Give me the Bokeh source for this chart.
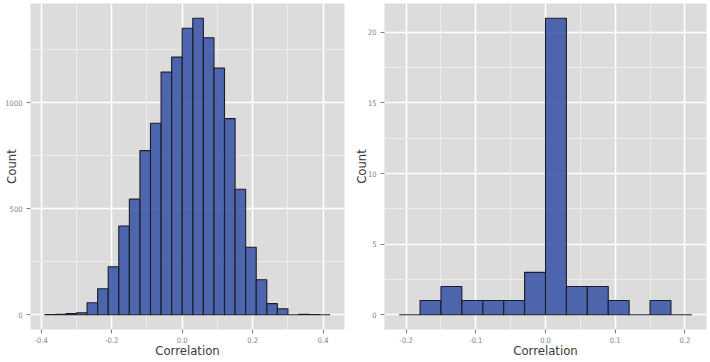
from bokeh.plotting import figure
from bokeh.layouts import row
from bokeh.models import FixedTicker, Range1d
from bokeh.embed import file_html
from bokeh.resources import INLINE

# ---------------- data ----------------
binwidth = 0.03

left_bin_lo = [-0.39, -0.36, -0.33, -0.30, -0.27, -0.24, -0.21, -0.18, -0.15,
               -0.12, -0.09, -0.06, -0.03, 0.00, 0.03, 0.06, 0.09, 0.12,
               0.15, 0.18, 0.21, 0.24, 0.27, 0.30, 0.33, 0.36, 0.39]
left_counts = [1, 2, 5, 9, 56, 122, 226, 418, 545,
               774, 903, 1144, 1215, 1351, 1398, 1306, 1163, 925,
               592, 318, 165, 52, 28, 0, 2, 1, 0]

right_bin_lo = [-0.21, -0.18, -0.15, -0.12, -0.09, -0.06, -0.03,
                0.00, 0.03, 0.06, 0.09, 0.12, 0.15, 0.18]
right_counts = [0, 1, 2, 1, 1, 1, 3, 21, 2, 2, 1, 0, 1, 0]

left_xticks = [-0.4, -0.2, 0.0, 0.2, 0.4]
left_xtick_labels = ["-0.4", "-0.2", "0.0", "0.2", "0.4"]
left_xminor = [-0.3, -0.1, 0.1, 0.3]
left_yticks = [0, 500, 1000]
left_ytick_labels = ["0", "500", "1000"]
left_yminor = [250, 750, 1250]

right_xticks = [-0.2, -0.1, 0.0, 0.1, 0.2]
right_xtick_labels = ["-0.2", "-0.1", "0.0", "0.1", "0.2"]
right_xminor = [-0.15, -0.05, 0.05, 0.15]
right_yticks = [0, 5, 10, 15, 20]
right_ytick_labels = ["0", "5", "10", "15", "20"]
right_yminor = [2.5, 7.5, 12.5, 17.5]

x_title = "Correlation"
y_title = "Count"

# ---------------- style ----------------
FONT = "DejaVu Sans Condensed, Roboto, sans-serif"
PANEL_BG = "#dcdcdc"
BAR_FILL = "#3c58a6"
BAR_LINE = "#1c1c28"
TICK_COLOR = "#7f7f7f"
TITLE_COLOR = "#3a3a3a"


def make_panel(bin_lo, counts, xticks, xlabels, xminor, yticks, ylabels, yminor,
               width, border_left, border_right, ylab_standoff):
    lo = list(bin_lo)
    hi = [b + binwidth for b in bin_lo]
    xmin, xmax = lo[0], hi[-1]
    xpad = (xmax - xmin) * 0.05
    ymax = max(counts)
    ypad = ymax * 0.05

    p = figure(width=width, height=362,
               min_border_left=border_left, min_border_right=border_right,
               min_border_top=3, min_border_bottom=33,
               x_range=Range1d(xmin - xpad, xmax + xpad),
               y_range=Range1d(-ypad, ymax + ypad),
               output_backend="svg", toolbar_location=None)
    p.background_fill_color = PANEL_BG
    p.border_fill_color = "white"
    p.outline_line_color = None

    p.quad(left=lo, right=hi, bottom=0, top=counts,
           fill_color=BAR_FILL, fill_alpha=0.9,
           line_color=BAR_LINE, line_width=1.1)

    p.xaxis.ticker = FixedTicker(ticks=xticks, minor_ticks=xminor)
    p.yaxis.ticker = FixedTicker(ticks=yticks, minor_ticks=yminor)
    p.xaxis.major_label_overrides = {t: l for t, l in zip(xticks, xlabels)}
    p.yaxis.major_label_overrides = {t: l for t, l in zip(yticks, ylabels)}

    for ax in (p.xaxis[0], p.yaxis[0]):
        ax.axis_line_color = None
        ax.major_tick_line_color = TICK_COLOR
        ax.major_tick_in = 0
        ax.major_tick_out = 4
        ax.minor_tick_line_color = None
        ax.major_label_text_color = TICK_COLOR
        ax.major_label_text_font = FONT
        ax.major_label_text_font_size = "7.5px"
        ax.axis_label_text_font = FONT
        ax.axis_label_text_font_size = "13px"
        ax.axis_label_text_font_style = "normal"
        ax.axis_label_text_color = TITLE_COLOR
    p.xaxis.major_label_standoff = 3
    p.yaxis.major_label_standoff = 4
    p.xaxis.axis_label = x_title
    p.yaxis.axis_label = y_title
    p.xaxis.axis_label_standoff = -3
    p.yaxis.axis_label_standoff = ylab_standoff

    for g in (p.xgrid[0], p.ygrid[0]):
        g.grid_line_color = "white"
        g.grid_line_width = 1.6
        g.minor_grid_line_color = "#f1f1f1"
        g.minor_grid_line_width = 0.8
    return p


p1 = make_panel(left_bin_lo, left_counts, left_xticks, left_xtick_labels, left_xminor,
                left_yticks, left_ytick_labels, left_yminor,
                width=350, border_left=30, border_right=6, ylab_standoff=-17)
p2 = make_panel(right_bin_lo, right_counts, right_xticks, right_xtick_labels, right_xminor,
                right_yticks, right_ytick_labels, right_yminor,
                width=360, border_left=33, border_right=4, ylab_standoff=-4)

layout = row(p1, p2)
open("out.html", "w").write(file_html(layout, INLINE))
